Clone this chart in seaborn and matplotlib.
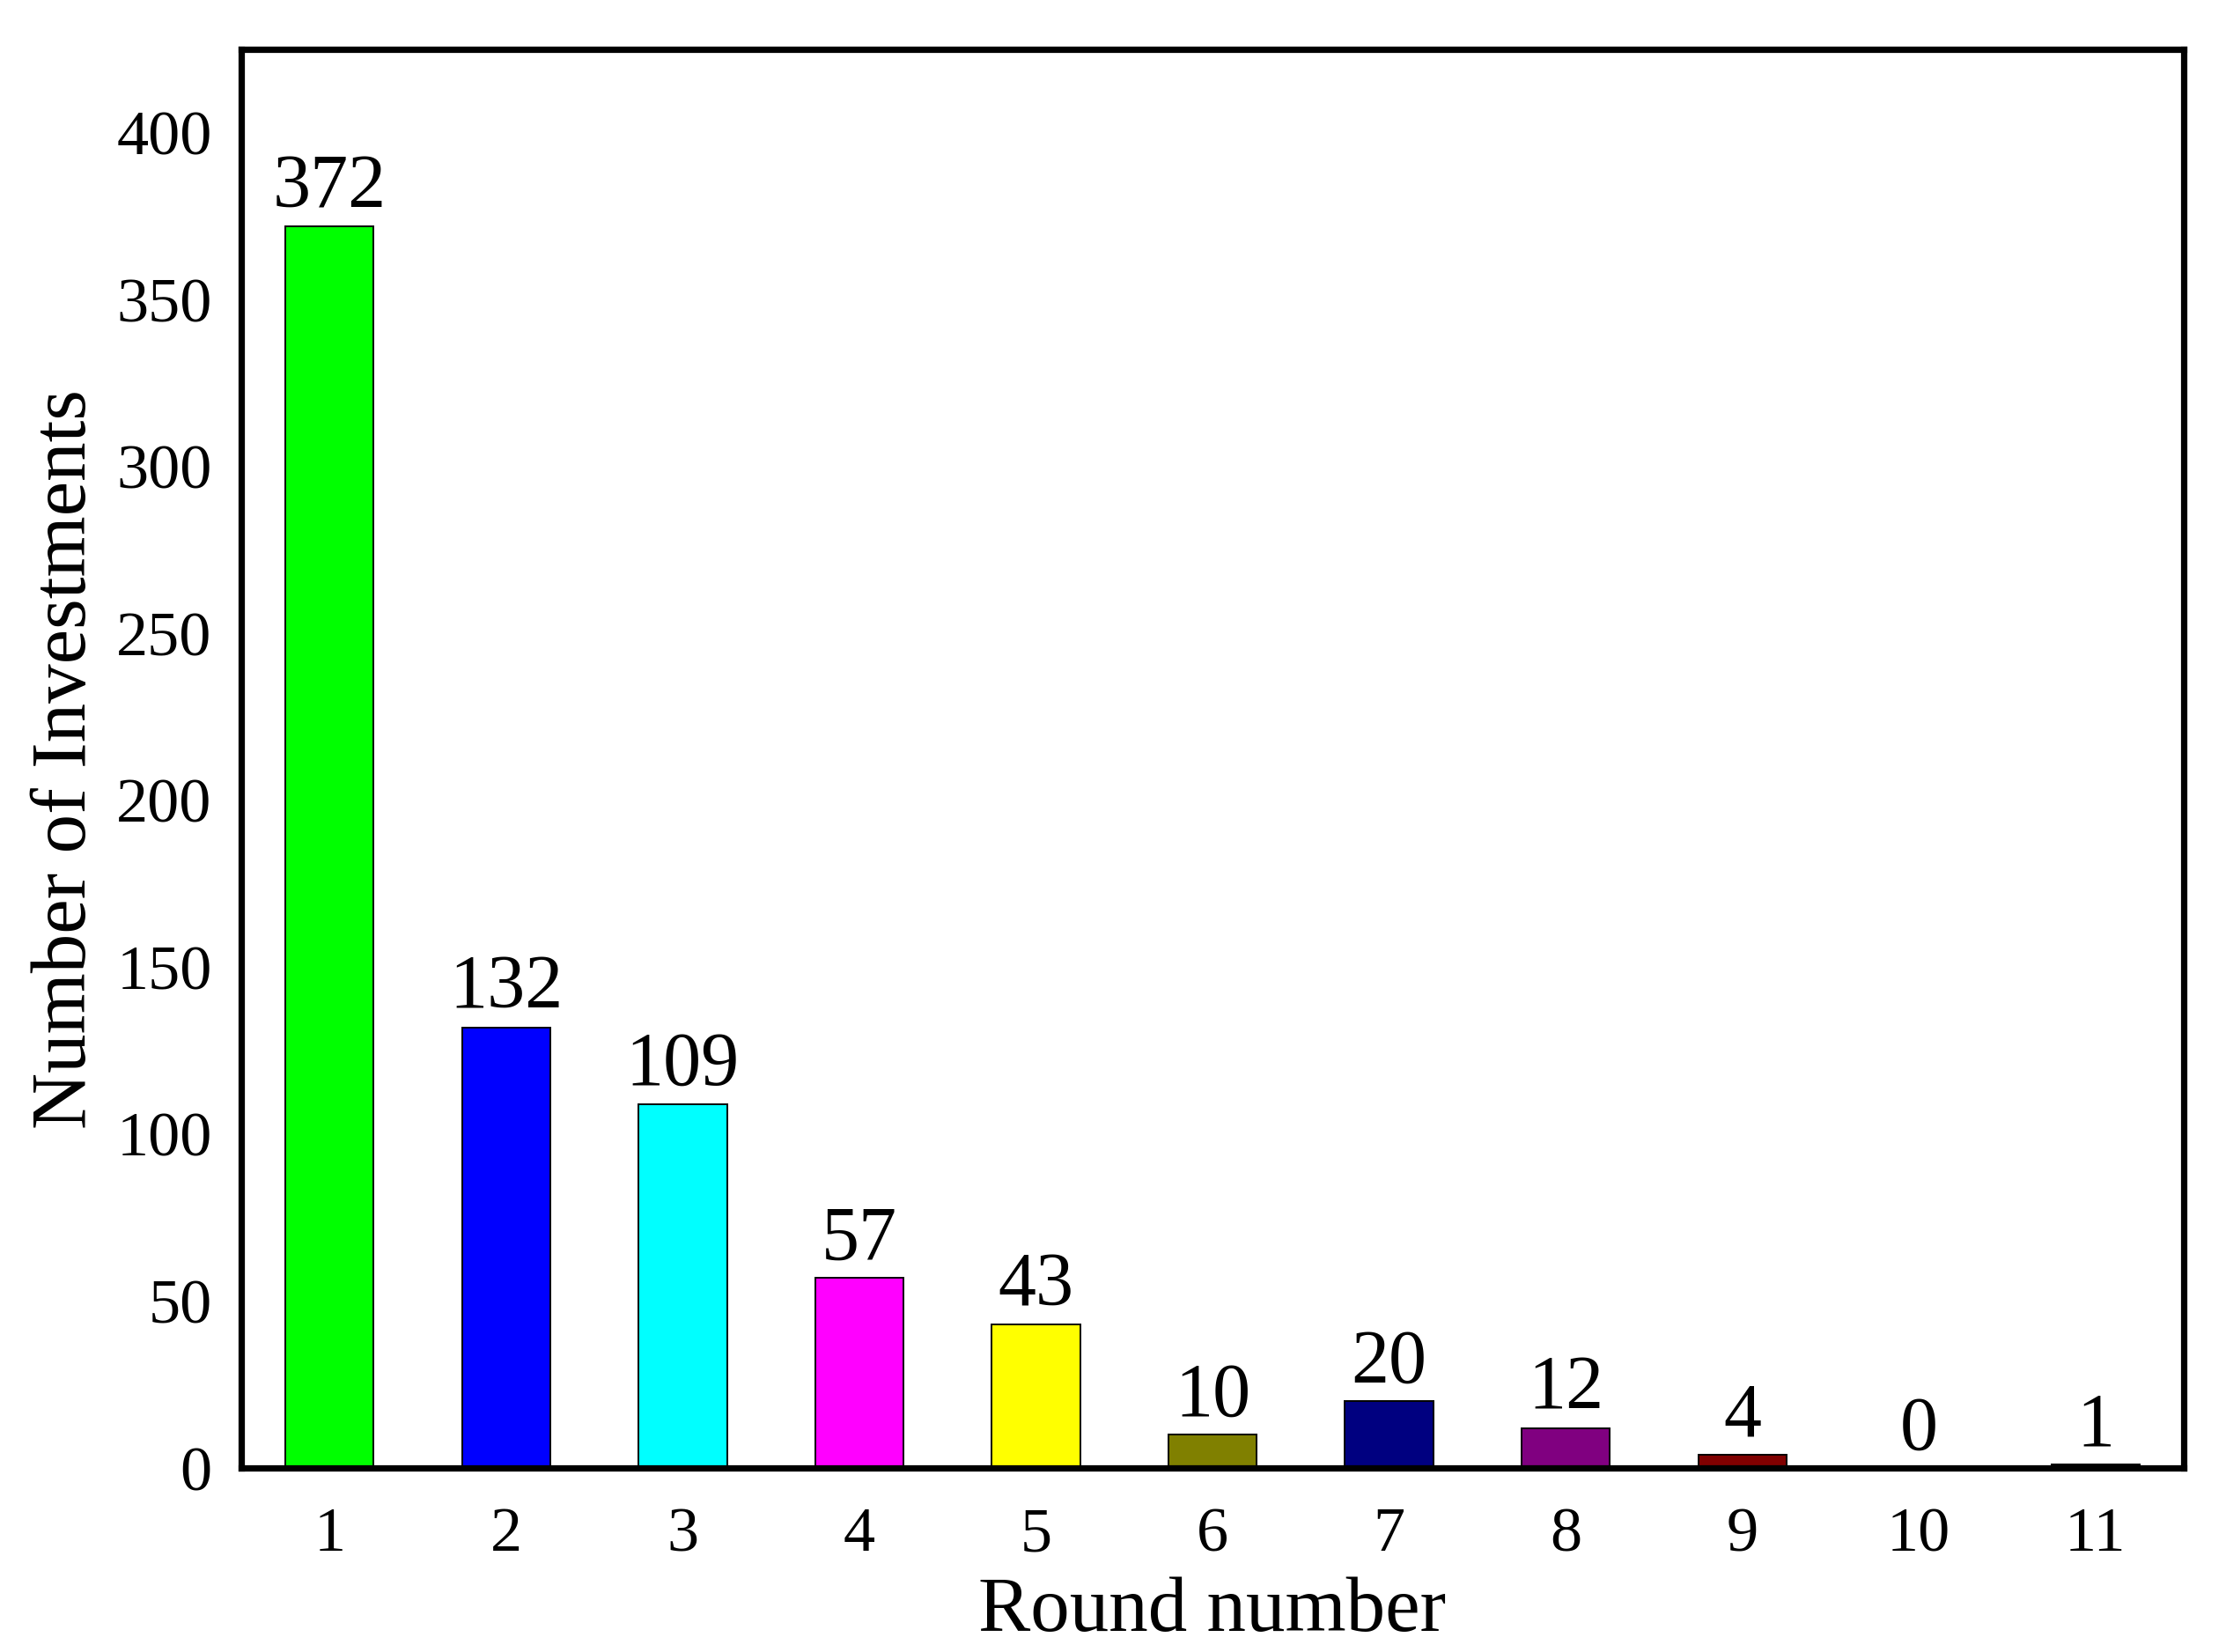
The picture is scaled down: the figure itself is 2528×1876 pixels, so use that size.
import matplotlib
matplotlib.use("Agg")
import matplotlib.pyplot as plt
import seaborn as sns
import pandas as pd

rounds = ["1", "2", "3", "4", "5", "6", "7", "8", "9", "10", "11"]
investments = [372, 132, 109, 57, 43, 10, 20, 12, 4, 0, 1]
bar_colors = ["#00FF00", "#0000FF", "#00FFFF", "#FF00FF", "#FFFF00", "#808000",
              "#000080", "#800080", "#800000", "#808080", "#008080"]
y_ticks = [0, 50, 100, 150, 200, 250, 300, 350, 400]

sns.set_theme(style="white")
plt.rcParams['font.family'] = ['Liberation Serif', 'DejaVu Serif']
plt.rcParams['text.color'] = 'black'
plt.rcParams['axes.labelcolor'] = 'black'

df = pd.DataFrame({"Round": rounds, "Count": investments})

fig = plt.figure(figsize=(12.64, 9.38), dpi=200)
ax = fig.add_axes([274/2528, 1 - 1667/1876, (2480-274)/2528, (1667-56)/1876])

sns.barplot(data=df, x="Round", y="Count", hue="Round", palette=bar_colors,
            order=rounds, hue_order=rounds, legend=False, width=0.5,
            edgecolor="black", linewidth=0.7, saturation=1, ax=ax)

for patch, v in zip(ax.patches, investments):
    ax.annotate(str(v), (patch.get_x() + patch.get_width()/2, v),
                xytext=(0, 1), textcoords="offset points",
                ha="center", va="bottom", fontsize=31, color="black")

ax.set_xlim(-0.5, 10.5)
ax.set_ylim(0, 425)
ax.set_yticks(y_ticks)
ax.tick_params(axis="y", labelsize=26, length=0, pad=12, colors="black")
ax.tick_params(axis="x", labelsize=26, length=0, pad=16, colors="black")
ax.set_xlabel("Round number", fontsize=32, labelpad=5, color="black")
ax.set_ylabel("Number of Investments", fontsize=32, labelpad=6, color="black")
for s in ax.spines.values():
    s.set_visible(True)
    s.set_color("black")
    s.set_linewidth(2.6)

fig.savefig("out.png", dpi=200, facecolor="white")
